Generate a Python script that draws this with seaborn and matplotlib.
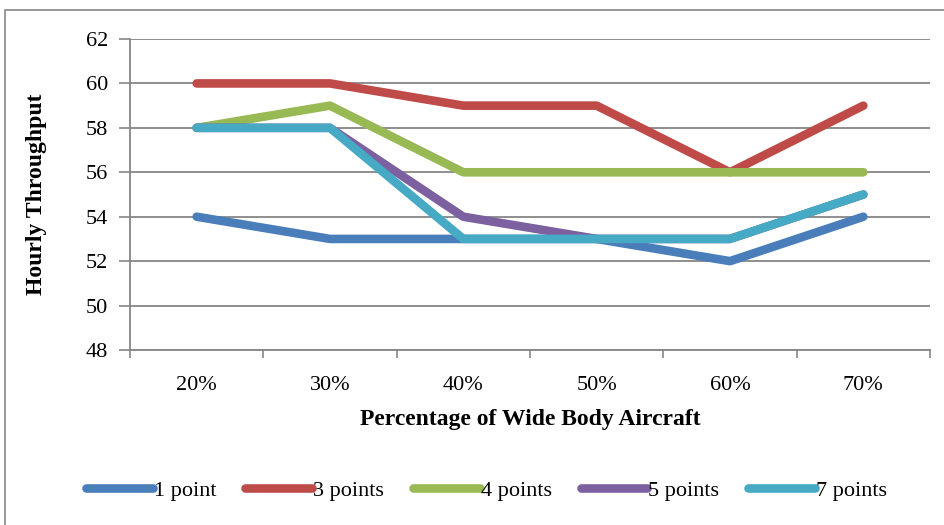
import matplotlib
matplotlib.use("Agg")
import matplotlib.pyplot as plt
import seaborn as sns
import pandas as pd
from matplotlib.patches import Rectangle

categories = ["20%", "30%", "40%", "50%", "60%", "70%"]
s1 = [54, 53, 53, 53, 52, 54]
s3 = [60, 60, 59, 59, 56, 59]
s4 = [58, 59, 56, 56, 56, 56]
s5 = [58, 58, 54, 53, 53, 55]
s7 = [58, 58, 53, 53, 53, 55]
series_names = ["1 point", "3 points", "4 points", "5 points", "7 points"]
colors = ["#4A7EBB", "#BE4B48", "#98B954", "#7D60A0", "#46AAC5"]
yticks = [48, 50, 52, 54, 56, 58, 60, 62]

rows = []
for name, vals in zip(series_names, [s1, s3, s4, s5, s7]):
    for c, v in zip(categories, vals):
        rows.append({"cat": c, "val": v, "series": name})
df = pd.DataFrame(rows)

sns.set_theme(style="white")
plt.rcParams["font.family"] = ["Liberation Serif", "DejaVu Serif"]
plt.rcParams["text.color"] = "black"
plt.rcParams["axes.labelcolor"] = "black"
plt.rcParams["xtick.color"] = "black"
plt.rcParams["ytick.color"] = "black"
plt.rcParams["lines.solid_capstyle"] = "round"
plt.rcParams["lines.solid_joinstyle"] = "round"

fig = plt.figure(figsize=(9.45, 5.25), dpi=100)
ax = fig.add_axes([130/945, 1-350/525, 800/945, 311/525])

sns.lineplot(data=df, x="cat", y="val", hue="series", palette=colors,
             hue_order=series_names, linewidth=6.2, ax=ax, legend=False,
             sort=False)

ax.set_xlim(-0.5, 5.5)
ax.set_ylim(48, 62)
ax.set_yticks(yticks)
ax.set_yticklabels([str(t) for t in yticks], fontsize=16)
ax.set_xticks(range(len(categories)))
ax.set_xticklabels(categories, fontsize=16)
ax.set_xticks([i - 0.5 for i in range(len(categories) + 1)], minor=True)
ax.tick_params(axis="x", which="major", bottom=True, length=0, pad=19, labelcolor="black")
ax.tick_params(axis="x", which="minor", bottom=True, length=6, color="#868686", width=1.2, direction="out")
ax.tick_params(axis="y", left=True, length=8, color="#868686", width=1.2, direction="out", pad=8,
               labelcolor="black")
ax.grid(axis="y", color="#868686", linewidth=1.3)
ax.set_axisbelow(True)
for sp in ["top", "right"]:
    ax.spines[sp].set_visible(False)
for sp in ["left", "bottom"]:
    ax.spines[sp].set_color("#868686")
    ax.spines[sp].set_linewidth(1.3)

ax.set_xlabel("Percentage of Wide Body Aircraft", fontsize=17, fontweight="bold", labelpad=10,
              color="black")
ax.set_ylabel("Hourly Throughput", fontsize=17, fontweight="bold", labelpad=28, color="black")

handles = [plt.Line2D([0], [0], color=c, linewidth=6.2, solid_capstyle="round") for c in colors]
fig.legend(handles, series_names, loc="center", bbox_to_anchor=(0.515, 0.065), ncol=5,
           frameon=False, fontsize=16, handlelength=3.0, handletextpad=0.05, columnspacing=1.3,
           labelcolor="black")

fig.patches.append(Rectangle((5/945, -0.1), 1.2, 1 - 10/525 + 0.1, transform=fig.transFigure,
                             fill=False, edgecolor="#868686", linewidth=1.2))

fig.savefig("out.png", dpi=100, facecolor="white")
